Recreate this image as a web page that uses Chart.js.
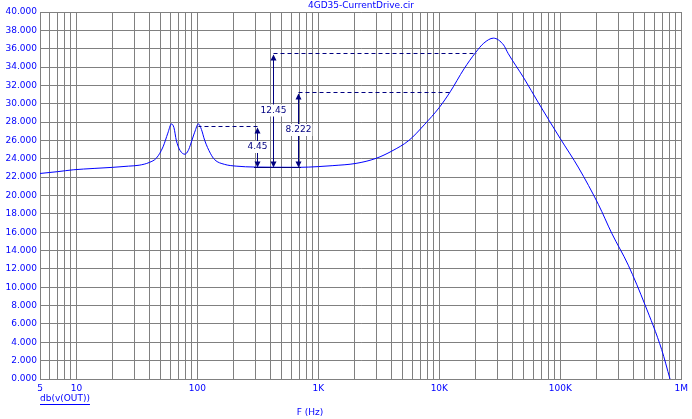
<!DOCTYPE html>
<html lang="en">
<head>
    <meta charset="UTF-8">
    <title>4GD35-CurrentDrive.cir</title>
    <script src="https://cdn.jsdelivr.net/npm/chart.js"></script>
    <style>
        body {
            margin: 0;
            padding: 0;
            background: #ffffff;
        }

        .chart-box {
            position: relative;
            width: 692px;
            height: 419px;
        }
    </style>
</head>
<body>
    <div class="chart-box">
        <canvas id="bodeChart"></canvas>
    </div>

    <script>
        // Frequency response (Hz, dB)
        const freqs = [5, 7, 9.4, 14, 20, 27, 33, 40, 46, 52, 57, 61, 64, 67, 72, 79, 84, 88, 95, 102,
            108, 115, 128, 139, 167, 209, 300, 450, 695, 1000, 1300, 2050, 3000, 4060, 5600, 7500,
            10000, 12300, 16000, 20000, 23300, 28000, 34000, 37000, 50000, 66000, 100000,
            142000, 207000, 266000, 365000, 501000, 689000, 807000];
        const dbOut = [22.4, 22.6, 22.8, 22.95, 23.07, 23.2, 23.3, 23.6, 24.1, 25.3, 26.8, 27.8, 27.4, 26.0, 24.9, 24.5, 24.9, 25.6, 26.9, 27.8,
            27.2, 26.0, 24.6, 23.9, 23.4, 23.2, 23.1, 23.08, 23.07, 23.15, 23.25, 23.5, 24.05, 24.85, 26.0, 27.7,
            29.6, 31.3, 33.8, 35.6, 36.6, 37.15, 36.4, 35.5, 32.8, 30.1, 26.2,
            23.0, 19.0, 15.9, 12.4, 8.1, 3.2, 0];

        // x axis labels
        const xLabelVals = [5, 10, 100, 1000, 10000, 100000, 1000000];
        const xLabels = ["5", "10", "100", "1K", "10K", "100K", "1M"];

        // measurement markers: position, base level, difference, end of dashed line
        const markFreqs = [313, 419, 679];
        const markBase = 23.1;
        const markDeltas = [4.45, 12.45, 8.222];
        const markText = ["4.45", "12.45", "8.222"];
        const markDashTo = [102, 20400, 12300];

        const FONT = "'DejaVu Sans', Verdana, sans-serif";
        const BLUE = "#0000ff";
        const NAVY = "#000080";
        const GRID = "#808080";

        // grid lines at every 1..9 step of each decade
        const gridVals = [];
        for (let d = 0; d < 6; d++) {
            for (let m = 1; m < 10; m++) {
                const v = m * Math.pow(10, d);
                if (v >= 5) gridVals.push(v);
            }
        }
        gridVals.push(1000000);

        function arrowHead(ctx, x, y, dir) {
            ctx.beginPath();
            ctx.moveTo(x, y);
            ctx.lineTo(x - 3, y - dir * 6);
            ctx.lineTo(x + 3, y - dir * 6);
            ctx.closePath();
            ctx.fill();
        }

        const overlay = {
            id: "overlay",
            afterDatasetsDraw(chart) {
                const ctx = chart.ctx;
                const xs = chart.scales.x;
                const ys = chart.scales.y;
                ctx.save();
                ctx.strokeStyle = NAVY;
                ctx.fillStyle = NAVY;
                ctx.lineWidth = 1;
                const yb = Math.round(ys.getPixelForValue(markBase)) + 0.5;

                // base line under the markers
                ctx.beginPath();
                ctx.moveTo(Math.round(xs.getPixelForValue(markFreqs[0])) - 3, yb);
                ctx.lineTo(Math.round(xs.getPixelForValue(markFreqs[2])) + 3, yb);
                ctx.stroke();

                ctx.font = "9px " + FONT;
                ctx.textAlign = "center";
                ctx.textBaseline = "middle";

                for (let i = 0; i < markFreqs.length; i++) {
                    const xp = Math.round(xs.getPixelForValue(markFreqs[i])) + 0.5;
                    const yt = Math.round(ys.getPixelForValue(markBase + markDeltas[i])) + 0.5;
                    const xd = xs.getPixelForValue(markDashTo[i]);

                    ctx.setLineDash([4, 3]);
                    ctx.beginPath();
                    ctx.moveTo(xp, yt);
                    ctx.lineTo(xd, yt);
                    ctx.stroke();
                    ctx.setLineDash([]);

                    ctx.beginPath();
                    ctx.moveTo(xp, yt + 2);
                    ctx.lineTo(xp, yb - 2);
                    ctx.stroke();
                    arrowHead(ctx, xp, yt + 1, -1);
                    arrowHead(ctx, xp, yb, 1);

                    const ym = (yt + yb) / 2;
                    const w = ctx.measureText(markText[i]).width;
                    ctx.fillStyle = "#ffffff";
                    ctx.fillRect(xp - w / 2 - 1, ym - 6, w + 2, 12);
                    ctx.fillStyle = NAVY;
                    ctx.fillText(markText[i], xp, ym);
                }
                ctx.restore();
            },
            afterDraw(chart) {
                const ctx = chart.ctx;
                ctx.save();
                ctx.fillStyle = BLUE;
                ctx.strokeStyle = BLUE;
                ctx.font = "9px " + FONT;
                ctx.textBaseline = "middle";
                ctx.textAlign = "center";
                ctx.fillText("4GD35-CurrentDrive.cir", 361, 6);
                ctx.fillText("F (Hz)", 310, 413);

                ctx.textAlign = "left";
                const w = ctx.measureText("db(v(OUT))").width;
                ctx.fillText("db(v(OUT))", 40, 399);
                ctx.lineWidth = 1;
                ctx.beginPath();
                ctx.moveTo(40, 404.5);
                ctx.lineTo(40 + w, 404.5);
                ctx.stroke();
                ctx.restore();
            }
        };

        const ctx = document.getElementById("bodeChart").getContext("2d");
        new Chart(ctx, {
            type: "line",
            data: {
                datasets: [{
                    label: "db(v(OUT))",
                    data: freqs.map((f, i) => ({ x: f, y: dbOut[i] })),
                    borderColor: BLUE,
                    borderWidth: 1,
                    pointRadius: 0,
                    cubicInterpolationMode: "monotone",
                    fill: false
                }]
            },
            options: {
                responsive: true,
                maintainAspectRatio: false,
                animation: false,
                events: [],
                layout: {
                    padding: { top: 12, right: 9, left: 0, bottom: 0 }
                },
                plugins: {
                    legend: { display: false },
                    tooltip: { enabled: false }
                },
                scales: {
                    x: {
                        type: "logarithmic",
                        min: 5,
                        max: 1000000,
                        afterBuildTicks: scale => {
                            scale.ticks = gridVals.map(v => ({ value: v }));
                        },
                        afterFit: scale => {
                            scale.height = 40;
                        },
                        grid: { color: GRID, drawTicks: false },
                        border: { color: GRID },
                        ticks: {
                            autoSkip: false,
                            maxRotation: 0,
                            padding: 4,
                            color: BLUE,
                            font: { family: FONT, size: 9 },
                            callback: v => {
                                const k = xLabelVals.indexOf(v);
                                return k >= 0 ? xLabels[k] : "";
                            }
                        }
                    },
                    y: {
                        min: 0,
                        max: 40,
                        afterFit: scale => {
                            scale.width = 40;
                        },
                        grid: { color: GRID, drawTicks: false },
                        border: { color: GRID },
                        ticks: {
                            stepSize: 2,
                            padding: 3,
                            color: BLUE,
                            font: { family: FONT, size: 9 },
                            callback: v => v.toFixed(3)
                        }
                    }
                }
            },
            plugins: [overlay]
        });
    </script>
</body>
</html>
